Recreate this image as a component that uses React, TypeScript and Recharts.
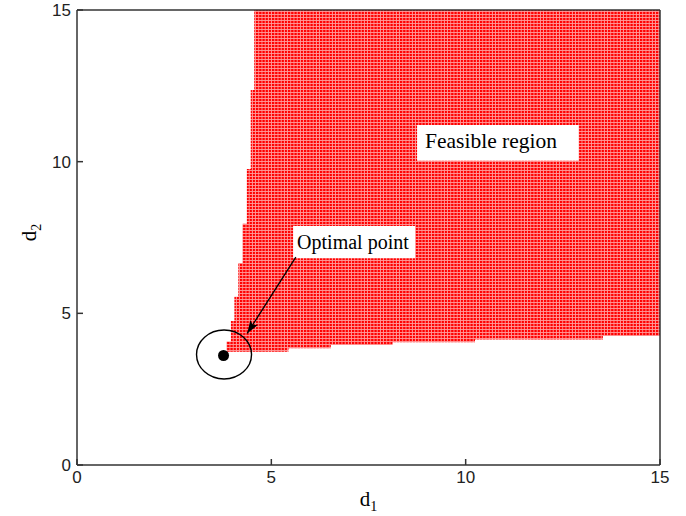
import React from "react";
import {
  ComposedChart,
  Area,
  Scatter,
  XAxis,
  YAxis,
  ReferenceArea,
  ReferenceLine,
} from "recharts";

// ---------------------------------------------------------------------------
// Data
// ---------------------------------------------------------------------------

// d1 break points of the feasible region outline (step after)
const stepD1 = [3.85, 3.96, 4.05, 4.15, 4.26, 4.37, 4.47, 4.56, 5.44, 6.53, 8.12, 10.24, 13.53, 15];
// lower edge of the feasible region at each break point
const lowerD2 = [3.73, 3.73, 3.73, 3.73, 3.73, 3.73, 3.73, 3.73, 3.85, 3.96, 4.05, 4.14, 4.25, 4.25];
// upper edge of the feasible region at each break point
const upperD2 = [4.07, 4.75, 5.55, 6.66, 7.95, 9.76, 12.36, 15, 15, 15, 15, 15, 15, 15];

const optimalD1 = 3.77;
const optimalD2 = 3.61;

// arrow from the label towards the optimal point
const arrowFrom = { x: 5.63, y: 6.85 };
const arrowTo = { x: 4.38, y: 4.34 };

// annotation boxes (data coordinates)
const feasibleBox = { x1: 8.75, x2: 12.91, y1: 10.03, y2: 11.21 };
const optimalBox = { x1: 5.56, x2: 8.7, y1: 6.82, y2: 7.88 };

const axisTicks = [0, 5, 10, 15];

const regionData = stepD1.map((d1, i) => ({ d1, band: [lowerD2[i], upperD2[i]] }));
const optimalData = [{ d1: optimalD1, d2: optimalD2 }];

// ---------------------------------------------------------------------------
// Styles
// ---------------------------------------------------------------------------

const AXIS_COLOR = "#333";
const tickStyle = { fontFamily: "Liberation Sans, Arial, sans-serif", fontSize: 17, fill: "#222" };
const serif = "Liberation Serif, Times New Roman, serif";

const OptimalShape = (props: any) => {
  const { cx, cy } = props;
  return (
    <g>
      <ellipse cx={cx + 0.5} cy={cy - 1} rx={27.5} ry={24.5} fill="none" stroke="#000" strokeWidth={1.4} />
      <circle cx={cx} cy={cy} r={5.5} fill="#000" />
    </g>
  );
};

const ArrowShape = (props: any) => {
  const { x1, y1, x2, y2 } = props;
  return (
    <line x1={x1} y1={y1} x2={x2} y2={y2} stroke="#000" strokeWidth={1.3} markerEnd="url(#arrowHead)" />
  );
};

const boxLabel = (text: string, dx: number, dy: number, size: number) => (p: any) => {
  const vb = p.viewBox;
  return (
    <text x={vb.x + dx} y={vb.y + dy} fontFamily={serif} fontSize={size} fill="#000">
      {text}
    </text>
  );
};

export default function App() {
  return (
    <div style={{ position: "absolute", left: 0, top: 0, background: "#fff" }}>
      <ComposedChart
        width={686}
        height={516}
        data={regionData}
        margin={{ top: 8, right: 24, bottom: 21, left: 37 }}
      >
        <defs>
          <pattern id="dots" width={3.2} height={3} patternUnits="userSpaceOnUse">
            <rect width={3.2} height={3} fill="#ff9c9c" />
            <rect width={2.3} height={2.1} fill="#ff0000" />
          </pattern>
          <marker
            id="arrowHead"
            markerUnits="userSpaceOnUse"
            markerWidth={14}
            markerHeight={9}
            refX={13}
            refY={4.5}
            orient="auto"
          >
            <path d="M0,0 L13,4.5 L0,9 L3,4.5 z" fill="#000" />
          </marker>
        </defs>
        <XAxis
          xAxisId="top"
          orientation="top"
          type="number"
          dataKey="d1"
          domain={[0, 15]}
          ticks={axisTicks}
          height={2}
          tick={false}
          tickSize={-6}
          stroke={AXIS_COLOR}
          strokeWidth={1.5}
        />
        <YAxis
          yAxisId="right"
          orientation="right"
          type="number"
          domain={[0, 15]}
          ticks={axisTicks}
          width={2}
          tick={false}
          tickSize={-6}
          stroke={AXIS_COLOR}
          strokeWidth={1.5}
        />
        <Area
          type="stepAfter"
          dataKey="band"
          stroke="none"
          fill="url(#dots)"
          fillOpacity={1}
          isAnimationActive={false}
        />
        <XAxis
          type="number"
          dataKey="d1"
          domain={[0, 15]}
          ticks={axisTicks}
          height={30}
          tickSize={-6}
          tickMargin={12}
          tick={tickStyle}
          stroke={AXIS_COLOR}
          strokeWidth={1.5}
          label={{
            content: (p: any) => {
              const vb = p.viewBox;
              return (
                <text x={vb.x + vb.width / 2} y={vb.y + 41} textAnchor="middle" fontFamily={serif} fontSize={21} fill="#000">
                  d<tspan fontSize={14} dy={5}>1</tspan>
                </text>
              );
            },
          }}
        />
        <YAxis
          type="number"
          domain={[0, 15]}
          ticks={axisTicks}
          width={40}
          tickSize={-6}
          tickMargin={12}
          tick={tickStyle}
          stroke={AXIS_COLOR}
          strokeWidth={1.5}
          label={{
            content: (p: any) => {
              const vb = p.viewBox;
              const x = vb.x + vb.width - 41;
              const y = vb.y + vb.height / 2 - 5;
              return (
                <text x={x} y={y} transform={`rotate(-90 ${x} ${y})`} textAnchor="middle" fontFamily={serif} fontSize={21} fill="#000">
                  d<tspan fontSize={14} dy={5}>2</tspan>
                </text>
              );
            },
          }}
        />
        <ReferenceArea
          {...feasibleBox}
          fill="#fff"
          fillOpacity={1}
          stroke="none"
          label={{ content: boxLabel("Feasible region", 8, 23, 21.5) }}
        />
        <ReferenceArea
          {...optimalBox}
          fill="#fff"
          fillOpacity={1}
          stroke="none"
          label={{ content: boxLabel("Optimal point", 4, 23, 20) }}
        />
        <ReferenceLine segment={[arrowFrom, arrowTo]} shape={ArrowShape} />
        <Scatter data={optimalData} dataKey="d2" shape={OptimalShape} isAnimationActive={false} />
      </ComposedChart>
    </div>
  );
}
